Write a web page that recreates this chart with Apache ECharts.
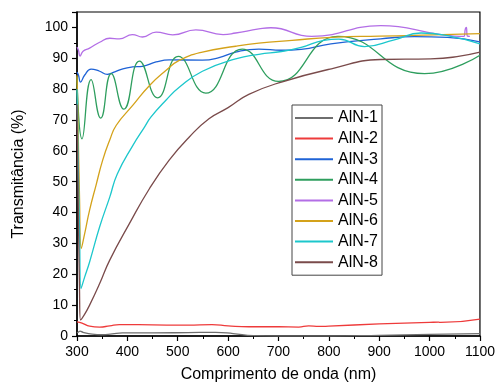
<!DOCTYPE html>
<html>
<head>
<meta charset="utf-8">
<script src="https://cdn.jsdelivr.net/npm/echarts@6/dist/echarts.min.js"></script>
<style>html,body{margin:0;padding:0;background:#fff}#c{width:498px;height:388px}</style>
</head>
<body>
<div id="c"></div>
<script>
const seriesNames = ['AlN-1','AlN-2','AlN-3','AlN-4','AlN-5','AlN-6','AlN-7','AlN-8'];
const colors = ['#6e6e6e','#ee3b3b','#1f63d6','#2e9e5e','#b36ee6','#d4a21a','#1cc7cc','#7a4b4b'];
const xTicks = [300,400,500,600,700,800,900,1000,1100];

const ain1 = [[300,1.0],[303,1.3],[306,1.6],[312,1.2],[330,0.6],[350,0.4],[370,0.7],[390,1.0],[450,1.0],[520,1.1],[575,1.2],[610,0.8],[650,0.1],[700,0],[800,0],[900,0.2],[1000,0.5],[1100,0.8]];
const ain2 = [[300,4.6],[310,4.2],[325,3.2],[345,2.9],[365,3.3],[384,3.7],[450,3.6],[520,3.5],[568,3.7],[600,3.3],[641,3.0],[700,3.0],[740,2.9],[760,3.3],[780,3.1],[800,3.2],[900,3.9],[1000,4.4],[1018,4.5],[1022,4.4],[1100,5.5]];
const ain3 = [[300,85.5],[303,84.5],[307,82.3],[315,84.5],[328,86.5],[345,85.8],[360,84.8],[375,85.6],[391,86.6],[410,87.2],[430,87.4],[457,88.8],[483,89.5],[549,89.4],[582,90.2],[615,92],[661,93],[706,92.6],[745,92.9],[804,94.7],[903,96.3],[970,97.0],[1036,96.8],[1100,95.3]];
const ain4 = [[300,84],[310,63.9],[328,83.1],[347,70.6],[368,85],[393,73.5],[424,89.1],[460,77.2],[501,90.6],[555.6,78.7],[628,93],[700,82.5],[818,97.1],[990,85],[1100,91]];
const ain5 = [[300,93.6],[303,92.5],[306,90.7],[312,92.3],[325,93.3],[345,95.2],[365,96.5],[384,96.3],[410,97.7],[430,96.9],[457,98.5],[490,97.6],[536,99.2],[590,97.7],[615,98.2],[661,99.5],[685,99.9],[766,97.1],[903,100.6],[1023,97.7],[1068,97.1],[1071,99.5],[1073,100],[1075,97.2],[1080,97.1]];
const ain6 = [[300,84.5],[302,70],[305,45],[308.5,28.4],[315,33],[325,40.8],[338,49],[351,57],[365,63.5],[378,68.3],[411,74.8],[444,81.2],[477,86.1],[503,89.3],[549,92],[615,93.9],[661,94.9],[727,95.8],[805,96.8],[900,97.2],[970,97.4],[1100,98.0]];
const ain7 = [[300,80],[302,60],[305,35],[308,15.4],[315,19],[325,24],[345,35.4],[365,45],[380,52.5],[411,61.8],[434,67.7],[447,71],[477,76.5],[503,80.6],[549,85.8],[615,89.8],[661,91.3],[706,92.2],[745,93.5],[790,95.8],[820,96.2],[871,93.8],[930,96],[983,98.2],[1040,97.2],[1100,94.7]];
const ain8 = [[300,75],[302,50],[305,15],[307,5.2],[315,7],[325,10],[345,17],[365,24.6],[404,36.4],[444,47.8],[483,57],[523,64.5],[562,70.4],[600,74],[641,78.3],[706,82.3],[805,86.6],[903,89.6],[1002,89.8],[1100,92.0]];

const allData = [ain1,ain2,ain3,ain4,ain5,ain6,ain7,ain8];
const font = 'Liberation Sans, Arial, sans-serif';

const chart = echarts.init(document.getElementById('c'), null, {renderer:'canvas'});
chart.setOption({
  animation:false,
  backgroundColor:'#fff',
  grid:{left:77,right:16,top:12,bottom:49,show:true,borderColor:'#000',borderWidth:1.2,containLabel:false},
  xAxis:{type:'value',min:300,max:1100,interval:100,
    name:'Comprimento de onda (nm)',nameLocation:'middle',nameGap:31,
    nameTextStyle:{fontFamily:font,fontSize:16,color:'#000'},
    axisLine:{show:true,lineStyle:{color:'#000',width:1.5}},
    axisTick:{show:true,inside:false,length:5,lineStyle:{color:'#000',width:1.2}},
    minorTick:{show:true,splitNumber:2,length:3,lineStyle:{color:'#000',width:1}},
    splitLine:{show:false},
    axisLabel:{fontFamily:font,fontSize:14,color:'#000',margin:9,
      formatter:v=>xTicks.includes(v)?String(v):''}},
  yAxis:{type:'value',min:0,max:105,interval:10,
    name:'Transmitância (%)',nameLocation:'middle',nameGap:50,
    nameTextStyle:{fontFamily:font,fontSize:16,color:'#000'},
    axisLine:{show:true,lineStyle:{color:'#000',width:1.5}},
    axisTick:{show:true,inside:false,length:5,lineStyle:{color:'#000',width:1.2}},
    minorTick:{show:true,splitNumber:2,length:3,lineStyle:{color:'#000',width:1}},
    splitLine:{show:false},
    axisLabel:{fontFamily:font,fontSize:14,color:'#000',margin:9,showMaxLabel:false}},
  legend:{orient:'vertical',left:292,top:105,padding:[5,4,5,3],itemGap:4.6,itemWidth:38,itemHeight:2,
    icon:'rect',
    borderColor:'#444',borderWidth:1,backgroundColor:'#fff',
    textStyle:{fontFamily:font,fontSize:16,color:'#000',lineHeight:16},
    data:seriesNames},
  series:seriesNames.map((n,i)=>({
    name:n,type:'line',data:allData[i],smooth:0.5,showSymbol:false,symbol:'none',
    lineStyle:{color:colors[i],width:1.3},itemStyle:{color:colors[i]},z:i===0?10:2
  }))
});
</script>
</body>
</html>
